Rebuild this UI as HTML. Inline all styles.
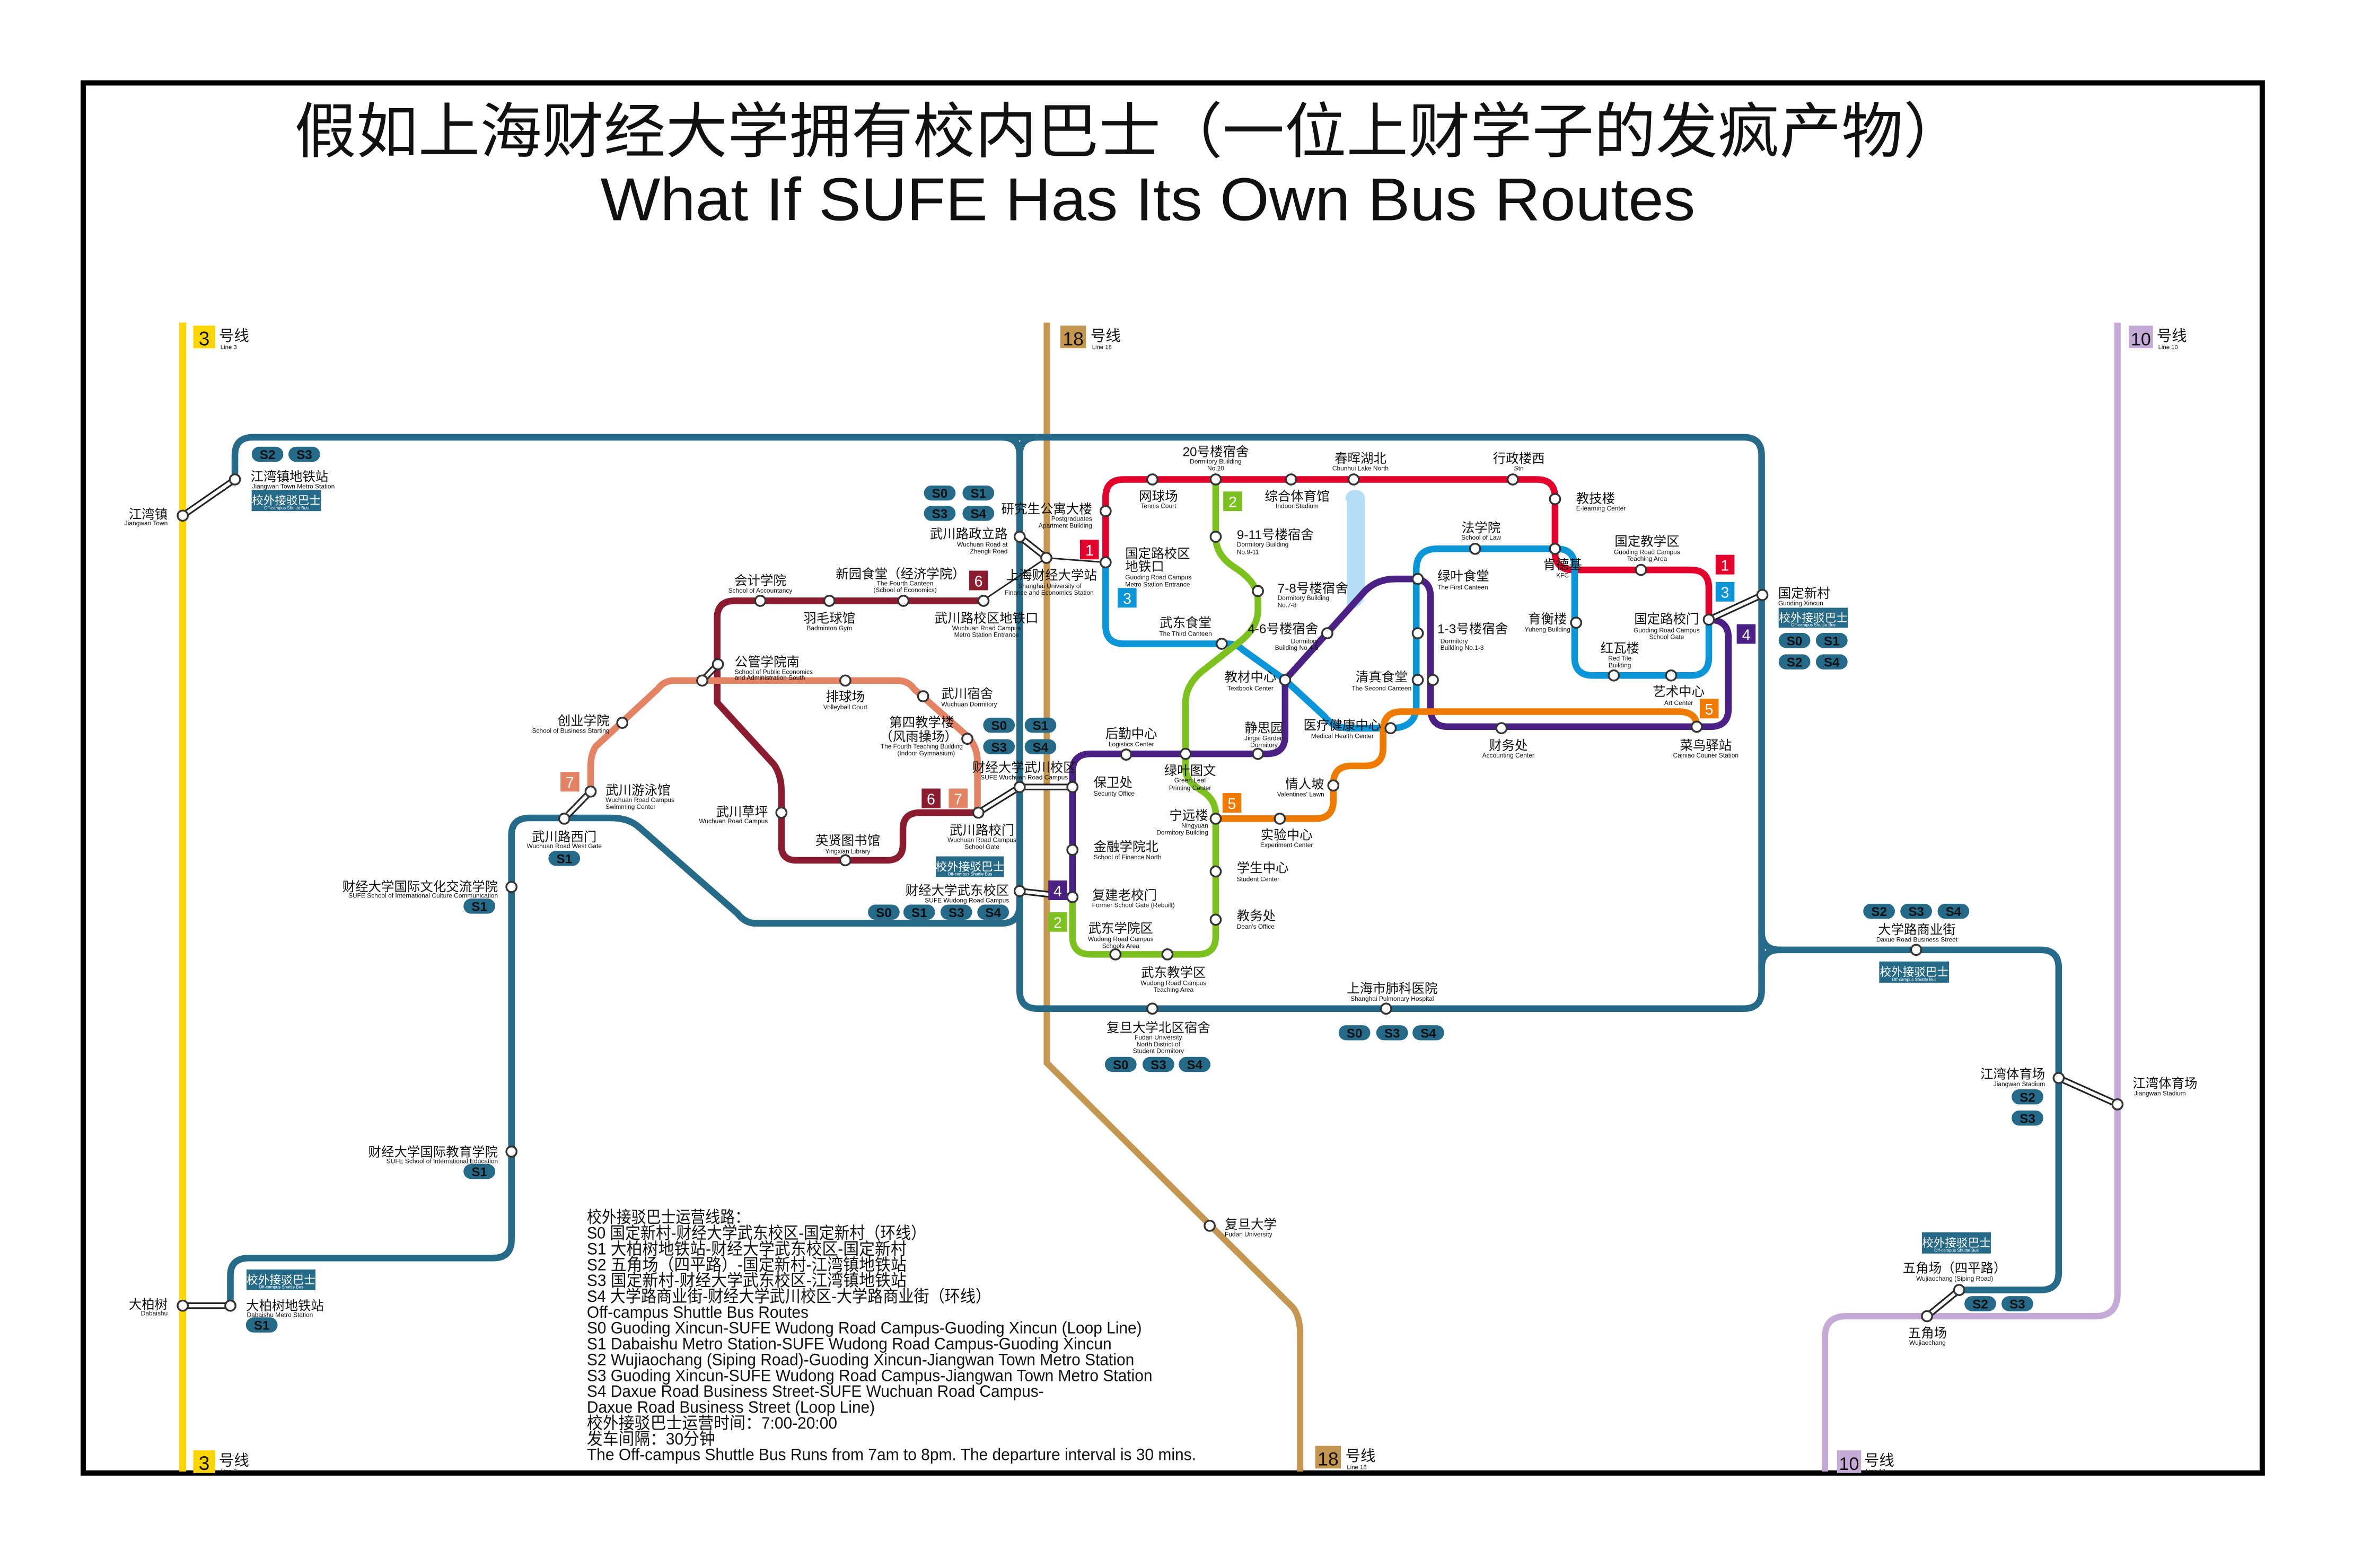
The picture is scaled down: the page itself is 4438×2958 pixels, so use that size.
<!DOCTYPE html>
<html><head><meta charset="utf-8"><style>
html,body{margin:0;padding:0;background:#fff}
svg{display:block}
text{font-family:"Liberation Sans","Noto Sans CJK SC",sans-serif;fill:#111}
.c{font-size:8.6px}.e{font-size:4.2px}
.m{text-anchor:middle}.n{text-anchor:end}
.st{fill:#fff;stroke:#333;stroke-width:1.2}
.ln{fill:none;stroke-width:4.4;stroke-linecap:round;stroke-linejoin:round}
.b{fill:#fff;font-size:8.5px;font-weight:bold;text-anchor:middle}
.nb{fill:#fff;font-size:10px;text-anchor:middle}
.bx{fill:#fff;font-size:7.6px;text-anchor:middle}
.bxe{fill:#fff;font-size:2.8px;text-anchor:middle}
.tx{font-size:11px}
</style></head><body>
<svg width="4438" height="2958" viewBox="0 0 1560 1040" xmlns="http://www.w3.org/2000/svg">
<rect width="1560" height="1040" fill="#fff"/>
<rect x="55" y="55" width="1445" height="922" fill="none" stroke="#000" stroke-width="3.5"/>
<text x="749" y="101" class="m" style="font-size:40px" textLength="1108" lengthAdjust="spacingAndGlyphs">假如上海财经大学拥有校内巴士（一位上财学子的发疯产物）</text>
<text x="761" y="146" class="m" style="font-size:40px" textLength="726" lengthAdjust="spacingAndGlyphs">What If SUFE Has Its Own Bus Routes</text>

<!-- metro lines -->
<path d="M121,214V976" stroke="#FFD500" stroke-width="4.6" fill="none"/>
<path d="M694,214V705L857,867Q862,873 862,885V976" stroke="#C4964F" stroke-width="4.2" fill="none"/>
<path d="M1404,214V858Q1404,873 1389,873H1224Q1210,873 1210,887V976" stroke="#C5A9D6" stroke-width="4.2" fill="none"/>

<!-- lake -->
<path d="M892,332Q892,325 898.5,325Q905,325 905,332V392Q905,402 896,404Q893,405 893,400V332Z" fill="#B3DEF5"/>

<!-- teal bus route -->
<g class="ln" stroke="#256A89">
<path d="M155.6,318V302Q155.6,290 167.6,290H1156Q1168,290 1168,302V657Q1168,669 1156,669H688Q676,669 676,657V302Q676,290 664,290"/>
<path d="M676,302Q676,290 688,290"/>
<path d="M676,600Q676,612.4 664,612.4H501Q494,612.4 489,606L424,549Q417,542.5 405,542.5H351Q339,542.5 339,554V822Q339,834.4 327,834.4H165Q152.6,834.4 152.6,846V866"/>
<path d="M1168,618Q1168,630 1180,630H1353Q1365,630 1365,642V844Q1365,855.6 1353,855.6H1299"/>
<path d="M1168,642Q1168,630 1180,630"/>
</g>
<!-- colored inner routes -->
<path class="ln" stroke="#E3002B" d="M733,373V330Q733,318 745,318H1019Q1031,318 1031,330V366Q1031,378 1043,378H1121Q1133,378 1133,390V411"/>
<path class="ln" stroke="#0A96D9" d="M733,373V415Q733,427 745,427H814Q820,427 824,431L852,451L878,475Q884,483 895,483H922Q939,483 939,468V378Q939,364 953,364H1032Q1044,364 1044,376V436Q1044,448 1056,448H1121Q1133,448 1133,436V411"/>
<path class="ln" stroke="#7DC11E" d="M806,318V356Q806,368 818,376Q834,386 834,398V405Q834,415 824,424L796,446Q786,455 786,466V510Q786,518 796,524Q806,530 806,540V621Q806,633 794,633H723Q711,633 711,621V595"/>
<path class="ln" stroke="#4C2185" d="M711,595V512Q711,500 723,500H840Q852,500 852,488V451L905,392Q913,384 925,384H937Q948.5,384 948.5,396V470Q948.5,482 960,482H1134Q1146,482 1146,470V423Q1146,411 1133,411"/>
<path class="ln" stroke="#EE7A00" d="M806,543H872Q884,543 884,531V520Q884,508 896,508H905Q917,508 917,496V485Q917,472 929,472H1113Q1125,472 1125,482"/>
<path class="ln" stroke="#8B1C2F" d="M651.7,398.5H487Q475.4,398.5 475.4,410V466L513,507Q518,514 518,525V561Q518,570.6 528,570.6H588Q598.6,570.6 598.6,560V550Q598.6,539 610,539H648"/>
<path class="ln" stroke="#E48363" d="M465.5,451.4H447Q440,451.4 436,457L395,495Q391.5,500 391.5,509V525M465.5,451.4H595Q602,451.4 606,457L641,488Q648,495 648,505V539"/>

<!-- transfer connectors -->
<g fill="none" stroke-linecap="round">
<g stroke="#222" stroke-width="4.4">
<path d="M121,342L155.6,318M121,866H152.6M1404,732.5L1365,715M1277.7,873L1299,855.6M1168.5,394.6L1133,411M676,356L693.7,370M465.5,451.4L475.9,440.6M391.5,525L374,543M648.6,539L676,522M676,522H711M676,591L711,595"/>
</g>
<g stroke="#fff" stroke-width="2.2">
<path d="M121,342L155.6,318M121,866H152.6M1404,732.5L1365,715M1277.7,873L1299,855.6M1168.5,394.6L1133,411M676,356L693.7,370M465.5,451.4L475.9,440.6M391.5,525L374,543M648.6,539L676,522M676,522H711M676,591L711,595"/>
</g>
<path d="M693.7,370L733,373M693.7,370L652,398" stroke="#222" stroke-width="1"/>
</g>

<!-- stations -->
<g class="st">
<circle cx="155.6" cy="318" r="3.4"/><circle cx="152.6" cy="866" r="3.4"/><circle cx="339" cy="588.3" r="3.4"/><circle cx="339" cy="763.8" r="3.4"/><circle cx="374" cy="543" r="3.4"/><circle cx="1168.5" cy="394.6" r="3.4"/><circle cx="1270.5" cy="630" r="3.4"/><circle cx="1365" cy="715" r="3.4"/><circle cx="1299" cy="855.6" r="3.4"/><circle cx="764" cy="669" r="3.4"/><circle cx="919" cy="669" r="3.4"/><circle cx="676" cy="356" r="3.4"/><circle cx="676" cy="522" r="3.4"/><circle cx="676" cy="591" r="3.4"/><circle cx="652" cy="398.5" r="3.4"/>
<circle cx="121" cy="342" r="3.4"/><circle cx="121" cy="866" r="3.4"/><circle cx="1404" cy="732.5" r="3.4"/><circle cx="1277.7" cy="873" r="3.4"/><circle cx="693.7" cy="370" r="3.4"/><circle cx="802" cy="813" r="3.4"/>
<circle cx="764" cy="318" r="3.4"/><circle cx="806" cy="318" r="3.4"/><circle cx="856" cy="318" r="3.4"/><circle cx="897.5" cy="318" r="3.4"/><circle cx="1003" cy="318" r="3.4"/><circle cx="733" cy="339" r="3.4"/><circle cx="733" cy="373" r="3.4"/><circle cx="1031" cy="331" r="3.4"/><circle cx="1031" cy="364" r="3.4"/><circle cx="1088" cy="378" r="3.4"/><circle cx="1133" cy="411" r="3.4"/>
<circle cx="978" cy="364" r="3.4"/><circle cx="940" cy="384" r="3.4"/><circle cx="940" cy="420" r="3.4"/><circle cx="940" cy="451" r="3.4"/><circle cx="1045" cy="413" r="3.4"/><circle cx="1070" cy="448" r="3.4"/><circle cx="1108" cy="448" r="3.4"/><circle cx="810" cy="427" r="3.4"/><circle cx="852" cy="451" r="3.4"/><circle cx="922" cy="483" r="3.4"/>
<circle cx="806" cy="356" r="3.4"/><circle cx="834" cy="392" r="3.4"/><circle cx="786" cy="500" r="3.4"/><circle cx="806" cy="543" r="3.4"/><circle cx="806" cy="578" r="3.4"/><circle cx="806" cy="610" r="3.4"/><circle cx="739.5" cy="633" r="3.4"/><circle cx="774" cy="633" r="3.4"/><circle cx="711" cy="595" r="3.4"/>
<circle cx="746.6" cy="500.5" r="3.4"/><circle cx="834" cy="500" r="3.4"/><circle cx="880" cy="420" r="3.4"/><circle cx="950" cy="451" r="3.4"/><circle cx="995.5" cy="483" r="3.4"/><circle cx="1125" cy="482" r="3.4"/><circle cx="711" cy="522" r="3.4"/><circle cx="711" cy="563.7" r="3.4"/>
<circle cx="848.5" cy="543" r="3.4"/><circle cx="884" cy="521" r="3.4"/>
<circle cx="504" cy="398.5" r="3.4"/><circle cx="549.8" cy="398.5" r="3.4"/><circle cx="598.9" cy="398.5" r="3.4"/><circle cx="475.9" cy="440.6" r="3.4"/><circle cx="518" cy="539" r="3.4"/><circle cx="560.4" cy="570.6" r="3.4"/><circle cx="648.6" cy="539" r="3.4"/>
<circle cx="465.5" cy="451.4" r="3.4"/><circle cx="412.5" cy="479.4" r="3.4"/><circle cx="560.4" cy="451.4" r="3.4"/><circle cx="612" cy="461.8" r="3.4"/><circle cx="641.3" cy="490" r="3.4"/><circle cx="391.5" cy="525" r="3.4"/>
</g>

<!-- metro line labels -->
<rect x="128" y="216" width="14.5" height="15" fill="#FFD500"/><text x="135.2" y="229" class="m" style="font-size:13px">3</text><text x="145" y="226" style="font-size:10px">号线</text><text x="146" y="231.5" style="font-size:4px">Line 3</text>
<rect x="128" y="962" width="14.5" height="15" fill="#FFD500"/><text x="135.2" y="975" class="m" style="font-size:13px">3</text><text x="145" y="972" style="font-size:10px">号线</text><text x="146" y="977" style="font-size:4px">Line 3</text>
<rect x="703" y="216" width="17" height="15" fill="#C4964F"/><text x="711.5" y="229" class="m" style="font-size:12.5px">18</text><text x="723" y="226" style="font-size:10px">号线</text><text x="724" y="231.5" style="font-size:4px">Line 18</text>
<rect x="872" y="959" width="17" height="15" fill="#C4964F"/><text x="880.5" y="972" class="m" style="font-size:12.5px">18</text><text x="892" y="969" style="font-size:10px">号线</text><text x="893" y="974.5" style="font-size:4px">Line 18</text>
<rect x="1411.5" y="216" width="16" height="15" fill="#C5A9D6"/><text x="1419.5" y="229" class="m" style="font-size:12px">10</text><text x="1430" y="226" style="font-size:10px">号线</text><text x="1431" y="231.5" style="font-size:4px">Line 10</text>
<rect x="1218" y="962" width="16" height="15" fill="#C5A9D6"/><text x="1226" y="975" class="m" style="font-size:12px">10</text><text x="1236" y="972" style="font-size:10px">号线</text><text x="1237" y="977" style="font-size:4px">Line 10</text>

<!-- number badges -->
<g>
<rect x="716" y="358" width="12.5" height="13" fill="#E3002B"/><text x="722.3" y="368.5" class="nb">1</text>
<rect x="741" y="390" width="12.5" height="13" fill="#0A96D9"/><text x="747.3" y="400.5" class="nb">3</text>
<rect x="811" y="326" width="12.5" height="13" fill="#7DC11E"/><text x="817.3" y="336.5" class="nb">2</text>
<rect x="1137.5" y="368" width="12.5" height="13" fill="#E3002B"/><text x="1143.7" y="378.5" class="nb">1</text>
<rect x="1137.5" y="386" width="12.5" height="13" fill="#0A96D9"/><text x="1143.7" y="396.5" class="nb">3</text>
<rect x="1151.5" y="414" width="12.5" height="13" fill="#4C2185"/><text x="1157.8" y="424.5" class="nb">4</text>
<rect x="1127" y="463.5" width="12.5" height="13" fill="#EE7A00"/><text x="1133.2" y="474" class="nb">5</text>
<rect x="810.5" y="526" width="12.5" height="13" fill="#EE7A00"/><text x="816.7" y="536.5" class="nb">5</text>
<rect x="695" y="584" width="12.5" height="13" fill="#4C2185"/><text x="701.2" y="594.5" class="nb">4</text>
<rect x="695" y="605" width="12.5" height="13" fill="#7DC11E"/><text x="701.2" y="615.5" class="nb">2</text>
<rect x="642.5" y="378.5" width="12.5" height="13" fill="#8B1C2F"/><text x="648.7" y="389" class="nb">6</text>
<rect x="611" y="523" width="12.5" height="13" fill="#8B1C2F"/><text x="617.2" y="533.5" class="nb">6</text>
<rect x="629" y="523" width="12.5" height="13" fill="#E48363"/><text x="635.2" y="533.5" class="nb">7</text>
<rect x="371.5" y="512" width="12.5" height="13" fill="#E48363"/><text x="377.7" y="522.5" class="nb">7</text>
</g>

<!-- S badges -->
<g fill="#256A89">
<rect x="166.7" y="296.3" width="21" height="10" rx="5"/><rect x="191.1" y="296.3" width="21" height="10" rx="5"/>
<rect x="612.5" y="322" width="21" height="10" rx="5"/><rect x="638.1" y="322" width="21" height="10" rx="5"/>
<rect x="612.5" y="335.5" width="21" height="10" rx="5"/><rect x="638.1" y="335.5" width="21" height="10" rx="5"/>
<rect x="651.8" y="476" width="21" height="10" rx="5"/><rect x="679.3" y="476" width="21" height="10" rx="5"/>
<rect x="651.8" y="490.3" width="21" height="10" rx="5"/><rect x="679.3" y="490.3" width="21" height="10" rx="5"/>
<rect x="575.4" y="600" width="21" height="10" rx="5"/><rect x="598.9" y="600" width="21" height="10" rx="5"/><rect x="623.5" y="600" width="21" height="10" rx="5"/><rect x="647.9" y="600" width="21" height="10" rx="5"/>
<rect x="363.5" y="564.3" width="21" height="10" rx="5"/>
<rect x="307.2" y="596" width="21" height="10" rx="5"/>
<rect x="307.2" y="772" width="21" height="10" rx="5"/>
<rect x="162.9" y="873.8" width="21" height="10" rx="5"/>
<rect x="732.5" y="701" width="21" height="10" rx="5"/><rect x="757.5" y="701" width="21" height="10" rx="5"/><rect x="781.5" y="701" width="21" height="10" rx="5"/>
<rect x="887.5" y="680" width="21" height="10" rx="5"/><rect x="912.5" y="680" width="21" height="10" rx="5"/><rect x="936.5" y="680" width="21" height="10" rx="5"/>
<rect x="1179.3" y="419.8" width="21" height="10" rx="5"/><rect x="1204" y="419.8" width="21" height="10" rx="5"/>
<rect x="1179.3" y="434" width="21" height="10" rx="5"/><rect x="1204" y="434" width="21" height="10" rx="5"/>
<rect x="1235.4" y="599.4" width="21" height="10" rx="5"/><rect x="1260" y="599.4" width="21" height="10" rx="5"/><rect x="1284.7" y="599.4" width="21" height="10" rx="5"/>
<rect x="1333.8" y="722.5" width="21" height="10" rx="5"/><rect x="1333.8" y="736.6" width="21" height="10" rx="5"/>
<rect x="1302.5" y="859.7" width="21" height="10" rx="5"/><rect x="1327.1" y="859.7" width="21" height="10" rx="5"/>
</g>
<g class="b">
<text x="177.2" y="304.5">S2</text><text x="201.6" y="304.5">S3</text>
<text x="623" y="330.2">S0</text><text x="648.6" y="330.2">S1</text><text x="623" y="343.7">S3</text><text x="648.6" y="343.7">S4</text>
<text x="662.3" y="484.2">S0</text><text x="689.8" y="484.2">S1</text><text x="662.3" y="498.5">S3</text><text x="689.8" y="498.5">S4</text>
<text x="585.9" y="608.2">S0</text><text x="609.4" y="608.2">S1</text><text x="634" y="608.2">S3</text><text x="658.4" y="608.2">S4</text>
<text x="374" y="572.5">S1</text><text x="317.7" y="604.2">S1</text><text x="317.7" y="780.2">S1</text><text x="173.4" y="882">S1</text>
<text x="743" y="709.2">S0</text><text x="768" y="709.2">S3</text><text x="792" y="709.2">S4</text>
<text x="898" y="688.2">S0</text><text x="923" y="688.2">S3</text><text x="947" y="688.2">S4</text>
<text x="1189.8" y="428">S0</text><text x="1214.5" y="428">S1</text><text x="1189.8" y="442.2">S2</text><text x="1214.5" y="442.2">S4</text>
<text x="1245.9" y="607.6">S2</text><text x="1270.5" y="607.6">S3</text><text x="1295.2" y="607.6">S4</text>
<text x="1344.3" y="730.7">S2</text><text x="1344.3" y="744.8">S3</text>
<text x="1313" y="867.9">S2</text><text x="1337.6" y="867.9">S3</text>
</g>

<!-- shuttle boxes -->
<g fill="#256A89">
<rect x="166.7" y="325" width="46" height="14"/><rect x="163.3" y="842" width="45.7" height="13.7"/><rect x="620.4" y="568" width="45.1" height="13.7"/><rect x="1179.3" y="403.1" width="45.9" height="13.2"/><rect x="1246" y="637.7" width="46.3" height="14.1"/><rect x="1274.3" y="817.3" width="45.7" height="14.1"/>
</g>
<g>
<text x="189.7" y="334.5" class="bx">校外接驳巴士</text><text x="189.7" y="337.8" class="bxe">Off-campus Shuttle Bus</text>
<text x="186.2" y="851.5" class="bx">校外接驳巴士</text><text x="186.2" y="854.6" class="bxe">Off-campus Shuttle Bus</text>
<text x="643" y="577.5" class="bx">校外接驳巴士</text><text x="643" y="580.6" class="bxe">Off-campus Shuttle Bus</text>
<text x="1202.3" y="412.5" class="bx">校外接驳巴士</text><text x="1202.3" y="415.4" class="bxe">Off-campus Shuttle Bus</text>
<text x="1269.2" y="647.3" class="bx">校外接驳巴士</text><text x="1269.2" y="650.6" class="bxe">Off-campus Shuttle Bus</text>
<text x="1297.2" y="826.9" class="bx">校外接驳巴士</text><text x="1297.2" y="830.2" class="bxe">Off-campus Shuttle Bus</text>
</g>

<!-- station labels -->
<g>
<text x="111" y="344" class="c n">江湾镇</text><text x="111" y="348.5" class="e n">Jiangwan Town</text>
<text x="166" y="319" class="c">江湾镇地铁站</text><text x="167" y="324" class="e">Jiangwan Town Metro Station</text>
<text x="111" y="868" class="c n">大柏树</text><text x="111" y="872.5" class="e n">Dabaishu</text>
<text x="163" y="869" class="c">大柏树地铁站</text><text x="163.5" y="873.5" class="e">Dabaishu Metro Station</text>
<text x="330" y="591" class="c n">财经大学国际文化交流学院</text><text x="330" y="595.5" class="e n">SUFE School of International Culture Communication</text>
<text x="330" y="767" class="c n">财经大学国际教育学院</text><text x="330" y="771.5" class="e n">SUFE School of International Education</text>
<text x="374" y="558" class="c m">武川路西门</text><text x="374" y="562.5" class="e m">Wuchuan Road West Gate</text>
<text x="401.4" y="527" class="c">武川游泳馆</text><text x="401.4" y="532" class="e">Wuchuan Road Campus</text><text x="401.4" y="536.5" class="e">Swimming Center</text>
<text x="404" y="481" class="c n">创业学院</text><text x="404" y="486" class="e n">School of Business Starting</text>
<text x="504" y="388" class="c m">会计学院</text><text x="504" y="393" class="e m">School of Accountancy</text>
<text x="549.8" y="413" class="c m">羽毛球馆</text><text x="549.8" y="418" class="e m">Badminton Gym</text>
<text x="597" y="383.5" class="c m">新园食堂（经济学院）</text><text x="600" y="388.3" class="e m">The Fourth Canteen</text><text x="600" y="392.8" class="e m">(School of Economics)</text>
<text x="654" y="413" class="c m">武川路校区地铁口</text><text x="654" y="418" class="e m">Wuchuan Road Campus</text><text x="654" y="422.5" class="e m">Metro Station Entrance</text>
<text x="487" y="442" class="c">公管学院南</text><text x="487" y="447" class="e">School of Public Economics</text><text x="487" y="451" class="e">and Administration South</text>
<text x="560.4" y="465" class="c m">排球场</text><text x="560.4" y="470.5" class="e m">Volleyball Court</text>
<text x="624" y="463" class="c">武川宿舍</text><text x="624" y="468.5" class="e">Wuchuan Dormitory</text>
<text x="611" y="482" class="c m">第四教学楼</text><text x="609" y="491.5" class="c m">（风雨操场）</text><text x="611" y="496.5" class="e m">The Fourth Teaching Building</text><text x="614" y="501" class="e m">(Indoor Gymnasium)</text>
<text x="509" y="541.5" class="c n">武川草坪</text><text x="509" y="546" class="e n">Wuchuan Road Campus</text>
<text x="562" y="560.5" class="c m">英贤图书馆</text><text x="562" y="566" class="e m">Yingxian Library</text>
<text x="651" y="553.5" class="c m">武川路校门</text><text x="651" y="558.5" class="e m">Wuchuan Road Campus</text><text x="651" y="563" class="e m">School Gate</text>
<text x="679" y="512" class="c m">财经大学武川校区</text><text x="679" y="517" class="e m">SUFE Wuchuan Road Campus</text>
<text x="669" y="593.5" class="c n">财经大学武东校区</text><text x="669" y="598.5" class="e n">SUFE Wudong Road Campus</text>
<text x="668" y="357" class="c n">武川路政立路</text><text x="668" y="362.5" class="e n">Wuchuan Road at</text><text x="668" y="367" class="e n">Zhengli Road</text>
<text x="724" y="340.5" class="c n">研究生公寓大楼</text><text x="724" y="345.5" class="e n">Postgraduates</text><text x="724" y="350" class="e n">Apartment Building</text>
<text x="667" y="384.5" class="c">上海财经大学站</text><text x="675" y="390" class="e">Shanghai University of</text><text x="666" y="394.5" class="e">Finance and Economics Station</text>
<text x="806" y="302.5" class="c m">20号楼宿舍</text><text x="806" y="307.5" class="e m">Dormitory Building</text><text x="806" y="312" class="e m">No.20</text>
<text x="902" y="307" class="c m">春晖湖北</text><text x="902" y="312" class="e m">Chunhui Lake North</text>
<text x="1007" y="307" class="c m">行政楼西</text><text x="1007" y="312" class="e m">Stn</text>
<text x="768" y="332" class="c m">网球场</text><text x="768" y="337" class="e m">Tennis Court</text>
<text x="860" y="332" class="c m">综合体育馆</text><text x="860" y="337" class="e m">Indoor Stadium</text>
<text x="1045" y="333.5" class="c">教技楼</text><text x="1045" y="338.5" class="e">E-learning Center</text>
<text x="820" y="357.5" class="c">9-11号楼宿舍</text><text x="820" y="362.5" class="e">Dormitory Building</text><text x="820" y="367.5" class="e">No.9-11</text>
<text x="746" y="370" class="c">国定路校区</text><text x="746" y="378.6" class="c">地铁口</text><text x="746" y="384.3" class="e">Guoding Road Campus</text><text x="746" y="389" class="e">Metro Station Entrance</text>
<text x="982" y="353" class="c m">法学院</text><text x="982" y="358" class="e m">School of Law</text>
<text x="1092" y="362" class="c m">国定教学区</text><text x="1092" y="367.5" class="e m">Guoding Road Campus</text><text x="1092" y="372" class="e m">Teaching Area</text>
<text x="1036" y="377.5" class="c m">肯德基</text><text x="1036" y="383" class="e m">KFC</text>
<text x="847" y="393" class="c">7-8号楼宿舍</text><text x="847" y="398" class="e">Dormitory Building</text><text x="847" y="402.7" class="e">No.7-8</text>
<text x="953" y="385" class="c">绿叶食堂</text><text x="953" y="391" class="e">The First Canteen</text>
<text x="786" y="416" class="c m">武东食堂</text><text x="786" y="421.7" class="e m">The Third Canteen</text>
<text x="874" y="420" class="c n">4-6号楼宿舍</text><text x="874" y="426.6" class="e n">Dormitory</text><text x="874" y="431" class="e n">Building No.4-6</text>
<text x="953" y="420" class="c">1-3号楼宿舍</text><text x="955" y="426.6" class="e">Dormitory</text><text x="955" y="431" class="e">Building No.1-3</text>
<text x="1026" y="413.5" class="c m">育衡楼</text><text x="1026" y="419" class="e m">Yuheng Building</text>
<text x="1105" y="413.5" class="c m">国定路校门</text><text x="1105" y="419.4" class="e m">Guoding Road Campus</text><text x="1105" y="423.8" class="e m">School Gate</text>
<text x="1074" y="432.8" class="c m">红瓦楼</text><text x="1074" y="438" class="e m">Red Tile</text><text x="1074" y="442.7" class="e m">Building</text>
<text x="829" y="452" class="c m">教材中心</text><text x="829" y="458" class="e m">Textbook Center</text>
<text x="916" y="452" class="c m">清真食堂</text><text x="916" y="458" class="e m">The Second Canteen</text>
<text x="1113" y="461.7" class="c m">艺术中心</text><text x="1113" y="467.6" class="e m">Art Center</text>
<text x="838" y="485.7" class="c m">静思园</text><text x="838" y="491" class="e m">Jingsi Garden</text><text x="838" y="495.5" class="e m">Dormitory</text>
<text x="890" y="484" class="c m">医疗健康中心</text><text x="890" y="489.6" class="e m">Medical Health Center</text>
<text x="750" y="489.6" class="c m">后勤中心</text><text x="750" y="495" class="e m">Logistics Center</text>
<text x="1000" y="497.3" class="c m">财务处</text><text x="1000" y="502.5" class="e m">Accounting Center</text>
<text x="1131" y="497.3" class="c m">菜鸟驿站</text><text x="1131" y="502.5" class="e m">Cainiao Courier Station</text>
<text x="789" y="514" class="c m">绿叶图文</text><text x="789" y="519" class="e m">Green Leaf</text><text x="789" y="524" class="e m">Printing Center</text>
<text x="725" y="522" class="c">保卫处</text><text x="725" y="527.8" class="e">Security Office</text>
<text x="878" y="523" class="c n">情人坡</text><text x="878" y="528.3" class="e n">Valentines' Lawn</text>
<text x="801" y="543.8" class="c n">宁远楼</text><text x="801" y="549" class="e n">Ningyuan</text><text x="801" y="553.6" class="e n">Dormitory Building</text>
<text x="853" y="556.7" class="c m">实验中心</text><text x="853" y="561.8" class="e m">Experiment Center</text>
<text x="725" y="564.4" class="c">金融学院北</text><text x="725" y="570" class="e">School of Finance North</text>
<text x="820" y="578.6" class="c">学生中心</text><text x="820" y="584.5" class="e">Student Center</text>
<text x="724" y="596.7" class="c">复建老校门</text><text x="724" y="601.8" class="e">Former School Gate (Rebuilt)</text>
<text x="820" y="610.3" class="c">教务处</text><text x="820" y="616" class="e">Dean's Office</text>
<text x="743" y="618.6" class="c m">武东学院区</text><text x="743" y="624.3" class="e m">Wudong Road Campus</text><text x="743" y="628.9" class="e m">Schools Area</text>
<text x="778" y="648" class="c m">武东教学区</text><text x="778" y="653.4" class="e m">Wudong Road Campus</text><text x="778" y="657.8" class="e m">Teaching Area</text>
<text x="923" y="658.6" class="c m">上海市肺科医院</text><text x="923" y="663.8" class="e m">Shanghai Pulmonary Hospital</text>
<text x="768" y="684.5" class="c m">复旦大学北区宿舍</text><text x="768" y="689.5" class="e m">Fudan University</text><text x="768" y="694" class="e m">North District of</text><text x="768" y="698.5" class="e m">Student Dormitory</text>
<text x="812" y="815" class="c">复旦大学</text><text x="812" y="820" class="e">Fudan University</text>
<text x="1179" y="396.5" class="c">国定新村</text><text x="1179" y="401.6" class="e">Guoding Xincun</text>
<text x="1271" y="619.5" class="c m">大学路商业街</text><text x="1271" y="624.6" class="e m">Daxue Road Business Street</text>
<text x="1356" y="715.3" class="c n">江湾体育场</text><text x="1356" y="720.4" class="e n">Jiangwan Stadium</text>
<text x="1414" y="721.4" class="c">江湾体育场</text><text x="1415" y="726.5" class="e">Jiangwan Stadium</text>
<text x="1296" y="844" class="c m">五角场（四平路）</text><text x="1296" y="849.5" class="e m">Wujiaochang (Siping Road)</text>
<text x="1278" y="887" class="c m">五角场</text><text x="1278" y="892" class="e m">Wujiaochang</text>
</g>

<!-- info text -->
<g class="tx">
<text x="389" y="811" textLength="108" lengthAdjust="spacingAndGlyphs">校外接驳巴士运营线路：</text>
<text x="389" y="821.5" textLength="225" lengthAdjust="spacingAndGlyphs">S0 国定新村-财经大学武东校区-国定新村（环线）</text>
<text x="389" y="832" textLength="212" lengthAdjust="spacingAndGlyphs">S1 大柏树地铁站-财经大学武东校区-国定新村</text>
<text x="389" y="842.5" textLength="212" lengthAdjust="spacingAndGlyphs">S2 五角场（四平路）-国定新村-江湾镇地铁站</text>
<text x="389" y="853" textLength="212" lengthAdjust="spacingAndGlyphs">S3 国定新村-财经大学武东校区-江湾镇地铁站</text>
<text x="389" y="863.5" textLength="268" lengthAdjust="spacingAndGlyphs">S4 大学路商业街-财经大学武川校区-大学路商业街（环线）</text>
<text x="389" y="874" textLength="147" lengthAdjust="spacingAndGlyphs">Off-campus Shuttle Bus Routes</text>
<text x="389" y="884.5" textLength="368" lengthAdjust="spacingAndGlyphs">S0 Guoding Xincun-SUFE Wudong Road Campus-Guoding Xincun (Loop Line)</text>
<text x="389" y="895" textLength="348" lengthAdjust="spacingAndGlyphs">S1 Dabaishu Metro Station-SUFE Wudong Road Campus-Guoding Xincun</text>
<text x="389" y="905.5" textLength="363" lengthAdjust="spacingAndGlyphs">S2 Wujiaochang (Siping Road)-Guoding Xincun-Jiangwan Town Metro Station</text>
<text x="389" y="916" textLength="375" lengthAdjust="spacingAndGlyphs">S3 Guoding Xincun-SUFE Wudong Road Campus-Jiangwan Town Metro Station</text>
<text x="389" y="926.5" textLength="303" lengthAdjust="spacingAndGlyphs">S4 Daxue Road Business Street-SUFE Wuchuan Road Campus-</text>
<text x="389" y="937" textLength="191" lengthAdjust="spacingAndGlyphs">Daxue Road Business Street (Loop Line)</text>
<text x="389" y="947.5" textLength="166" lengthAdjust="spacingAndGlyphs">校外接驳巴士运营时间：7:00-20:00</text>
<text x="389" y="958" textLength="85" lengthAdjust="spacingAndGlyphs">发车间隔：30分钟</text>
<text x="389" y="968.5" textLength="404" lengthAdjust="spacingAndGlyphs">The Off-campus Shuttle Bus Runs from 7am to 8pm. The departure interval is 30 mins.</text>
</g>
</svg>
</body></html>
